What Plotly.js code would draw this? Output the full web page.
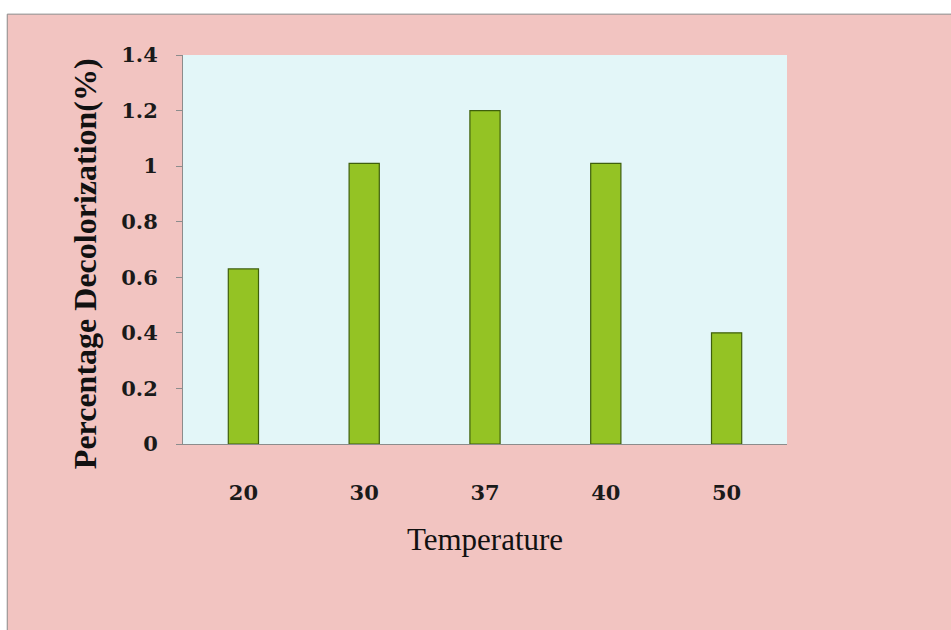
<!DOCTYPE html>
<html>
<head>
<meta charset="utf-8">
<script src="https://cdn.plot.ly/plotly-3.0.1.min.js"></script>
<style>html,body{margin:0;padding:0;background:#fff;}#chart{width:951px;height:630px;}</style>
</head>
<body>
<div id="chart"></div>
<script>
const temperatures = ['20', '30', '37', '40', '50'];
const decolorization = [0.63, 1.01, 1.20, 1.01, 0.40];
const yTickValues = [0, 0.2, 0.4, 0.6, 0.8, 1, 1.2, 1.4];
const yTickLabels = ['0', '0.2', '0.4', '0.6', '0.8', '1', '1.2', '1.4'];
const yTitle = 'Percentage Decolorization(%)';
const xTitle = 'Temperature';

const trace = {
  type: 'bar',
  x: temperatures,
  y: decolorization,
  marker: {color: '#94c324', line: {color: '#3f5f0c', width: 1.2}},
  hoverinfo: 'x+y'
};

const layout = {
  width: 951, height: 630,
  margin: {l: 183, r: 164, t: 55, b: 186},
  paper_bgcolor: '#ffffff',
  plot_bgcolor: 'rgba(0,0,0,0)',
  showlegend: false,
  bargap: 0.75,
  shapes: [
    {type: 'rect', xref: 'paper', yref: 'paper', x0: -0.291, x1: 1.28, y0: -0.49, y1: 1.105,
     fillcolor: '#f2c4c1', line: {color: '#8a8a8a', width: 1}, layer: 'below'},
    {type: 'rect', xref: 'paper', yref: 'paper', x0: 0, x1: 1, y0: 0, y1: 1,
     fillcolor: '#e3f6f8', line: {width: 0}, layer: 'below'}
  ],
  annotations: [
    {text: yTitle, xref: 'paper', yref: 'paper', x: -0.162, y: 0.4627,
     xanchor: 'center', yanchor: 'middle', textangle: -90, showarrow: false,
     font: {family: 'Liberation Serif', size: 32, color: '#111', weight: 'bold'}}
  ],
  xaxis: {
    type: 'category',
    showline: true, linecolor: '#8c8c8c', linewidth: 1,
    ticks: '', showgrid: false, zeroline: false,
    ticklabelstandoff: 30,
    tickfont: {family: 'DejaVu Serif', size: 21, color: '#1a1a1a', weight: 'bold'},
    title: {text: xTitle, font: {family: 'Liberation Serif', size: 31, color: '#111'}, standoff: 24},
    automargin: false
  },
  yaxis: {
    range: [0, 1.4],
    tickvals: yTickValues, ticktext: yTickLabels,
    showline: true, linecolor: '#8c8c8c', linewidth: 1,
    ticks: 'outside', ticklen: 6, tickcolor: '#8c8c8c',
    showgrid: false, zeroline: false,
    ticklabelstandoff: 14,
    tickfont: {family: 'DejaVu Serif', size: 21, color: '#1a1a1a', weight: 'bold'},
    automargin: false
  }
};

Plotly.newPlot('chart', [trace], layout, {displayModeBar: false, staticPlot: true});
</script>
</body>
</html>
